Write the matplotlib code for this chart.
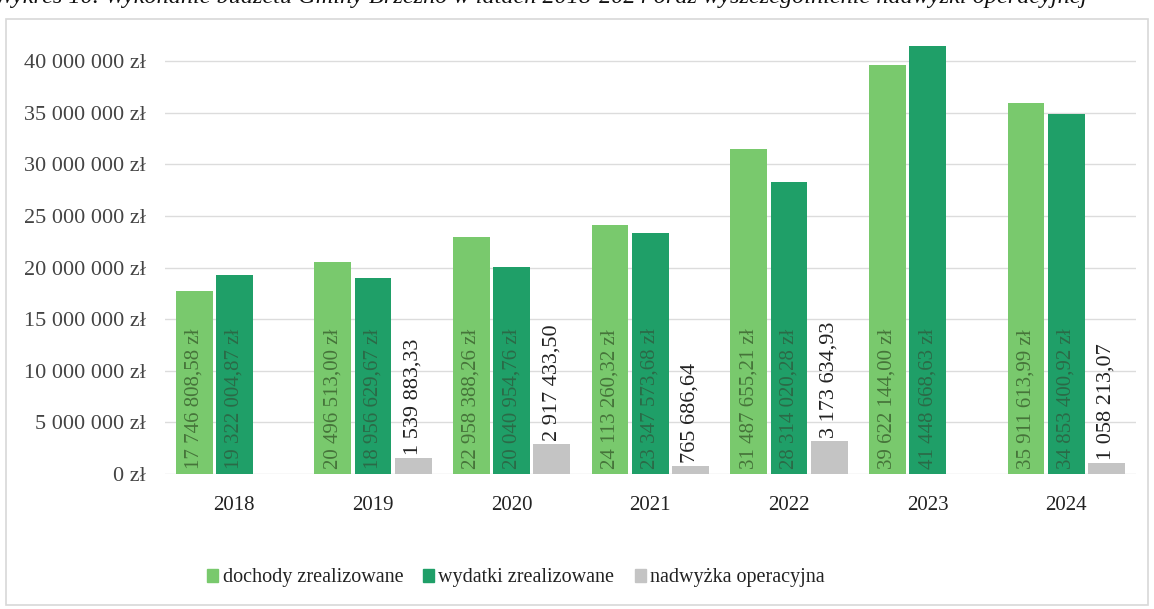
import numpy as np
import matplotlib.pyplot as plt
from matplotlib.patches import Patch, Rectangle
from matplotlib.ticker import FuncFormatter

plt.rcParams['font.family'] = ['Liberation Serif', 'DejaVu Serif']

# dane
lata = ['2018', '2019', '2020', '2021', '2022', '2023', '2024']
dochody = [17746808.58, 20496513.00, 22958388.26, 24113260.32, 31487655.21, 39622144.00, 35911613.99]
wydatki = [19322004.87, 18956629.67, 20040954.76, 23347573.68, 28314020.28, 41448668.63, 34853400.92]
nadwyzka = [0.0, 1539883.33, 2917433.50, 765686.64, 3173634.93, 0.0, 1058213.07]
etykiety_nadwyzki = ['', '1 539 883,33', '2 917 433,50', '765 686,64', '3 173 634,93', '', '1 058 213,07']

c_doch = '#79c96d'
c_wyd = '#1f9f68'
c_nad = '#c4c4c4'


def pl(v, zl=True, dec=True):
    s = f"{v:,.2f}" if dec else f"{v:,.0f}"
    s = s.replace(',', ' ').replace('.', ',')
    return s + (' zł' if zl else '')


fig = plt.figure(figsize=(11.54, 6.09), dpi=100)
ax = fig.add_axes([0.143, 0.2217, 0.841, 0.7116])

x = np.arange(len(lata))
w = 0.265
d = 0.29
ax.bar(x - d, dochody, w, color=c_doch, zorder=3)
ax.bar(x, wydatki, w, color=c_wyd, zorder=3)
ax.bar(x + d, nadwyzka, w, color=c_nad, zorder=3)

# etykiety w słupkach
for xi, v in zip(x - d, dochody):
    ax.text(xi, 500000, pl(v), rotation=90, ha='center', va='bottom',
            fontsize=15, color='#46743a', zorder=4)
for xi, v in zip(x, wydatki):
    ax.text(xi, 500000, pl(v), rotation=90, ha='center', va='bottom',
            fontsize=15, color='#2b6a47', zorder=4)
for xi, v, t in zip(x + d, nadwyzka, etykiety_nadwyzki):
    if t:
        ax.annotate(t, (xi, v), xytext=(0, 2), textcoords='offset points',
                    rotation=90, ha='center', va='bottom', fontsize=16,
                    color='#222222', zorder=4)

ax.set_xlim(-0.5, len(lata) - 0.5)
ax.set_ylim(0, 42000000)
ax.set_yticks(np.arange(0, 40000001, 5000000))
ax.yaxis.set_major_formatter(FuncFormatter(lambda v, p: pl(v, dec=False)))
ax.set_xticks(x)
ax.set_xticklabels(lata)
ax.tick_params(axis='both', length=0, labelsize=15, colors='#444444')
ax.tick_params(axis='x', pad=16, colors='#222222')
ax.tick_params(axis='y', pad=14, labelsize=16)
ax.grid(axis='y', color='#dcdcdc', linewidth=1, zorder=0)
for s in ax.spines.values():
    s.set_visible(False)

handles = [Patch(color=c_doch, label='dochody zrealizowane'),
           Patch(color=c_wyd, label='wydatki zrealizowane'),
           Patch(color=c_nad, label='nadwyżka operacyjna')]
fig.legend(handles=handles, loc='center', bbox_to_anchor=(0.447, 0.051), ncol=3,
           frameon=False, fontsize=14.5, handlelength=0.55, handleheight=0.6,
           handletextpad=0.2, columnspacing=1.0, labelcolor='#222222')

# ramka wykresu
fig.patches.append(Rectangle((0.005, 0.006), 0.99, 0.962, transform=fig.transFigure,
                             fill=False, edgecolor='#d8d8d8', linewidth=1.2))

# tytuł (ucięty u góry)
fig.text(-0.005, 1.004, 'Wykres 10. Wykonanie budżetu Gminy Brzeźno w latach 2018-2024 oraz '
         'wyszczególnienie nadwyżki operacyjnej', ha='left', va='center',
         fontsize=17.5, style='italic', color='#111111')

fig.savefig('out.png', dpi=100)
